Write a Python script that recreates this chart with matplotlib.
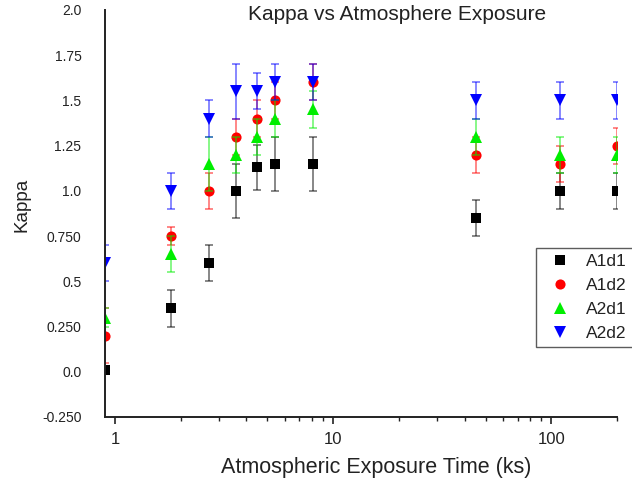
import matplotlib
matplotlib.use("Agg")
import matplotlib.pyplot as plt
from matplotlib.ticker import FixedLocator, NullFormatter, FixedFormatter

plt.rcParams['font.family'] = ['Liberation Sans', 'DejaVu Sans']

# ---- data ----
time_ks = [0.9, 1.8, 2.7, 3.6, 4.5, 5.4, 8.1, 45, 110, 200]

a1d1 = [0.01, 0.35, 0.6, 1.0, 1.13, 1.15, 1.15, 0.85, 1.0, 1.0]
a1d1_err = [0.02, 0.1, 0.1, 0.15, 0.125, 0.15, 0.15, 0.1, 0.1, 0.1]

a1d2 = [0.2, 0.75, 1.0, 1.3, 1.4, 1.5, 1.6, 1.2, 1.15, 1.25]
a1d2_err = [0.15, 0.05, 0.1, 0.1, 0.1, 0.1, 0.1, 0.1, 0.1, 0.1]

a2d1 = [0.3, 0.65, 1.15, 1.2, 1.3, 1.4, 1.45, 1.3, 1.2, 1.2]
a2d1_err = [0.05, 0.1, 0.15, 0.1, 0.1, 0.1, 0.1, 0.1, 0.1, 0.1]

a2d2 = [0.6, 1.0, 1.4, 1.55, 1.55, 1.6, 1.6, 1.5, 1.5, 1.5]
a2d2_err = [0.1, 0.1, 0.1, 0.15, 0.1, 0.1, 0.1, 0.1, 0.1, 0.1]

series_names = ['A1d1', 'A1d2', 'A2d1', 'A2d2']

y_tick_vals = [-0.25, 0.0, 0.25, 0.5, 0.75, 1.0, 1.25, 1.5, 1.75, 2.0]
y_tick_labels = ['-0.250', '0.0', '0.250', '0.5', '0.750', '1.0', '1.25', '1.5', '1.75', '2.0']
y_major_marks = [0.0, 0.5, 1.0, 1.5, 2.0]
x_tick_vals = [1, 10, 100]
x_tick_labels = ['1', '10', '100']

# ---- figure ----
W, H = 632, 484
fig = plt.figure(figsize=(W / 100, H / 100), dpi=100)
ax = fig.add_axes([105 / W, 1 - 417 / H, (617 - 105) / W, (417 - 10) / H])

txt = '#222222'
styles = [
    dict(marker='s', color='#000000', ms=7),
    dict(marker='o', color='#ff0000', ms=7.3),
    dict(marker='^', color='#00ee00', ms=8.3),
    dict(marker='v', color='#0000ff', ms=8.3),
]
ys = [a1d1, a1d2, a2d1, a2d2]
errs = [a1d1_err, a1d2_err, a2d1_err, a2d2_err]
handles = []
for name, y, e, st in zip(series_names, ys, errs, styles):
    ax.errorbar(time_ks, y, yerr=e, fmt='none', ecolor=st['color'],
                elinewidth=1.2, capsize=3.0, capthick=1.2, alpha=0.55)
    h, = ax.plot(time_ks, y, linestyle='none', marker=st['marker'],
                 color=st['color'], markersize=st['ms'], markeredgewidth=0,
                 label=name)
    handles.append(h)

ax.set_xscale('log')
ax.set_xlim(0.9, 200)
ax.set_ylim(-0.25, 2.0)

for s in ['top', 'right']:
    ax.spines[s].set_visible(False)
for s in ['left', 'bottom']:
    ax.spines[s].set_linewidth(1.4)
    ax.spines[s].set_color('#222222')

# y ticks: labels at every 0.25, tick marks only at 0.5 steps
ax.yaxis.set_major_locator(FixedLocator(y_tick_vals))
ax.yaxis.set_major_formatter(FixedFormatter(y_tick_labels))
ax.yaxis.set_minor_locator(FixedLocator(y_major_marks))
ax.yaxis.set_minor_formatter(NullFormatter())
ax.tick_params(axis='y', which='major', length=0, pad=17, labelsize=10, labelcolor=txt)
ax.tick_params(axis='y', which='minor', length=6, width=1.2, direction='out', color='#222222')

# x ticks
ax.xaxis.set_major_locator(FixedLocator(x_tick_vals))
ax.xaxis.set_major_formatter(FixedFormatter(x_tick_labels))
minor_x = [m * d for d in (1, 10, 100) for m in range(2, 10) if m * d <= 200]
ax.xaxis.set_minor_locator(FixedLocator(minor_x))
ax.xaxis.set_minor_formatter(NullFormatter())
ax.tick_params(axis='x', which='major', length=5, width=1.2, direction='out',
               pad=6, labelsize=12, labelcolor=txt, color='#222222')
ax.tick_params(axis='x', which='minor', length=3, width=1.0, direction='out', color='#222222')

fig.text(397 / W, 1 - 15 / H, 'Kappa vs Atmosphere Exposure', ha='center', va='center',
         fontsize=15, color=txt)
fig.text(376 / W, 1 - 468 / H, 'Atmospheric Exposure Time (ks)', ha='center', va='center',
         fontsize=15.5, color=txt)
fig.text(22 / W, 1 - 205 / H, 'Kappa', ha='center', va='center', rotation=90,
         fontsize=13.5, color=txt)

leg = fig.legend(handles=handles, loc='upper left', bbox_to_anchor=(536 / W, 1 - 248 / H),
                 frameon=True, fancybox=False, fontsize=12.5, handlelength=2.1,
                 handletextpad=0.45, labelspacing=0.5, borderpad=0.35, borderaxespad=0)
leg.get_frame().set_edgecolor('#333333')
leg.get_frame().set_linewidth(1.0)
for t in leg.get_texts():
    t.set_color(txt)

fig.savefig('out.png', dpi=100)
